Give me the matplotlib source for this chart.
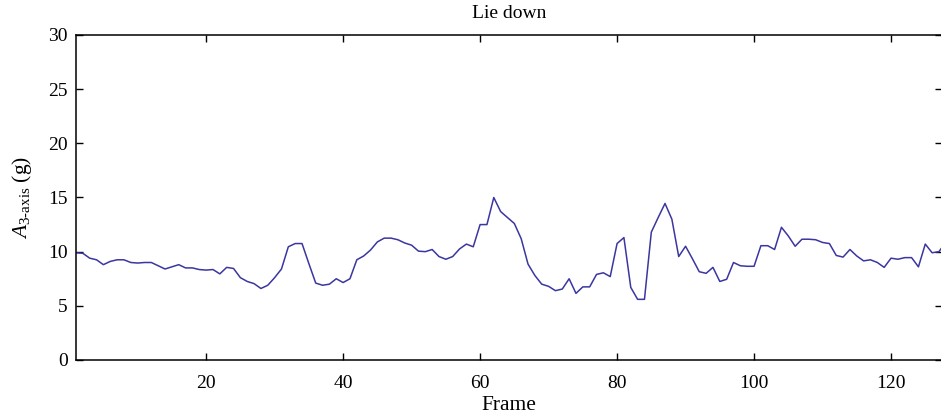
import matplotlib
matplotlib.use("Agg")
import matplotlib.pyplot as plt
import numpy as np

# Values, one per frame (1..128)
frames = np.arange(1, 129)
accel = [
    9.9, 9.85, 9.4, 9.25, 8.8, 9.1, 9.25, 9.25, 9.0, 8.95,
    9.0, 9.0, 8.7, 8.4, 8.6, 8.8, 8.5, 8.5, 8.35, 8.3,
    8.35, 7.95, 8.55, 8.45, 7.6, 7.25, 7.05, 6.6, 6.9, 7.6,
    8.4, 10.45, 10.75, 10.75, 8.9, 7.1, 6.9, 7.0, 7.5, 7.15,
    7.5, 9.25, 9.6, 10.15, 10.9, 11.25, 11.25, 11.1, 10.8, 10.6,
    10.05, 10.0, 10.2, 9.55, 9.3, 9.55, 10.25, 10.7, 10.45, 12.5,
    12.5, 15.0, 13.7, 13.15, 12.6, 11.2, 8.85, 7.8, 7.0, 6.8,
    6.4, 6.55, 7.5, 6.15, 6.75, 6.75, 7.9, 8.05, 7.7, 10.75,
    11.3, 6.7, 5.6, 5.6, 11.8, 13.15, 14.45, 13.0, 9.55, 10.5,
    9.35, 8.15, 8.0, 8.55, 7.25, 7.45, 9.0, 8.7, 8.65, 8.65,
    10.55, 10.55, 10.2, 12.25, 11.45, 10.5, 11.15, 11.15, 11.1, 10.85,
    10.75, 9.65, 9.5, 10.2, 9.6, 9.15, 9.25, 9.0, 8.55, 9.4,
    9.3, 9.45, 9.45, 8.6, 10.7, 9.9, 10.0, 10.9,
]
xticks = [20, 40, 60, 80, 100, 120]
yticks = [0, 5, 10, 15, 20, 25, 30]

plt.rcParams['font.family'] = ['Liberation Serif', 'DejaVu Serif']
plt.rcParams['mathtext.fontset'] = 'custom'
plt.rcParams['mathtext.rm'] = 'Liberation Serif'
plt.rcParams['mathtext.it'] = 'Liberation Serif:italic'

fig = plt.figure(figsize=(9.41, 4.2), dpi=100)
ax = fig.add_axes([76 / 941, 60 / 420, 866.4 / 941, 325 / 420])

ax.plot(frames, accel, color='#3b36a0', linewidth=1.1)

ax.set_xlim(1, 127.5)
ax.set_ylim(0, 30)
ax.set_xticks(xticks)
ax.set_yticks(yticks)
ax.tick_params(direction='in', top=True, right=True, labelsize=14, length=5, width=1)
ax.tick_params(axis='x', pad=11)
ax.tick_params(axis='y', pad=6)
for s in ax.spines.values():
    s.set_linewidth(1.1)

ax.set_title('Lie down', fontsize=14, pad=12)
ax.set_xlabel('Frame', fontsize=15.5, labelpad=3)
ax.set_ylabel(r'$A_{\mathrm{3\text{-}axis}}$ (g)', fontsize=15.5, labelpad=10)

fig.savefig('out.png', dpi=100)
